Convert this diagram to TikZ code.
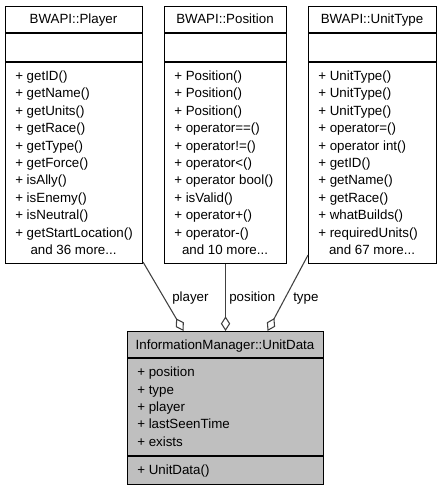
\documentclass[tikz,border=0pt]{standalone}
\usepackage{fontspec}
\setmainfont{Liberation Sans}
\usetikzlibrary{arrows.meta,calc}
\definecolor{edgegray}{HTML}{404040}
\definecolor{fillgray}{HTML}{BFBFBF}
\begin{document}
\begin{tikzpicture}[x=0.75pt,y=-0.75pt,
  box/.style={draw=black, line width=0.8pt, inner sep=0pt, anchor=north west},
  sepline/.style={draw=black, line width=0.8pt},
  ttl/.style={anchor=base, inner sep=0pt, font=\fontsize{10pt}{12pt}\selectfont},
  mem/.style={anchor=base west, inner sep=0pt, font=\fontsize{10pt}{12pt}\selectfont},
  more/.style={anchor=base, inner sep=0pt, font=\fontsize{10pt}{12pt}\selectfont},
  conn/.style={draw=edgegray, line width=0.8pt, -{Diamond[open, length=11pt, width=7pt]}},
  elab/.style={anchor=base west, inner sep=0pt, font=\fontsize{10pt}{12pt}\selectfont}]
\useasboundingbox (0,0) rectangle (440,491);

% BWAPI::Player
\node[box, minimum width=102.75pt, minimum height=192.75pt] (player) at (5,6) {};
\draw[sepline] (5,33) -- (142,33);
\draw[sepline] (5,62) -- (142,62);
\node[ttl] (playerT) at (73.5,24) {BWAPI::Player};
\foreach \t [count=\i from 0] in {+ getID(), + getName(), + getUnits(), + getRace(), + getType(), + getForce(), + isAlly(), + isEnemy(), + isNeutral(), + getStartLocation()}
  \node[mem] (pm\i) at (15,{80.6+17.4*\i}) {\t};
\node[more] (pmore) at (73.5,{80.6+17.4*10}) {and 36 more...};

% BWAPI::Position
\node[box, minimum width=91.5pt, minimum height=192.75pt] (position) at (164,6) {};
\draw[sepline] (164,33) -- (286,33);
\draw[sepline] (164,62) -- (286,62);
\node[ttl] (positionT) at (225,24) {BWAPI::Position};
\foreach \t [count=\i from 0] in {+ Position(), + Position(), + Position(), + operator==(), + operator!=(), + operator<(), + operator bool(), + isValid(), + operator+(), + operator-()}
  \node[mem] (qm\i) at (174,{80.6+17.4*\i}) {\t};
\node[more] (qmore) at (225,{80.6+17.4*10}) {and 10 more...};

% BWAPI::UnitType
\node[box, minimum width=96pt, minimum height=192.75pt] (unittype) at (308,6) {};
\draw[sepline] (308,33) -- (436,33);
\draw[sepline] (308,62) -- (436,62);
\node[ttl] (unittypeT) at (372,24) {BWAPI::UnitType};
\foreach \t [count=\i from 0] in {+ UnitType(), + UnitType(), + UnitType(), + operator=(), + operator int(), + getID(), + getName(), + getRace(), + whatBuilds(), + requiredUnits()}
  \node[mem] (um\i) at (318,{80.6+17.4*\i}) {\t};
\node[more] (umore) at (372,{80.6+17.4*10}) {and 67 more...};

% InformationManager::UnitData
\node[box, fill=fillgray, minimum width=147pt, minimum height=114.75pt] (ud) at (127,331) {};
\draw[sepline] (127,358) -- (323,358);
\draw[sepline] (127,456) -- (323,456);
\node[ttl] (udT) at (225,349.1) {InformationManager::UnitData};
\foreach \t [count=\i from 0] in {+ position, + type, + player, + lastSeenTime, + exists}
  \node[mem] (da\i) at (137,{376.6+17.4*\i}) {\t};
\node[mem] (dm0) at (137,474.6) {+ UnitData()};

% connectors
\draw[conn] ($(player.south east)+(0,-2)$) -- ($(ud.north)+(-42,0)$);
\draw[conn] (position.south) -- (ud.north);
\draw[conn] ($(unittype.south west)+(0,-9)$) -- ($(ud.north)+(42,0)$);
\node[elab] (lplayer) at (172,301) {player};
\node[elab] (lposition) at (229,301) {position};
\node[elab] (ltype) at (293,301) {type};
\end{tikzpicture}
\end{document}
